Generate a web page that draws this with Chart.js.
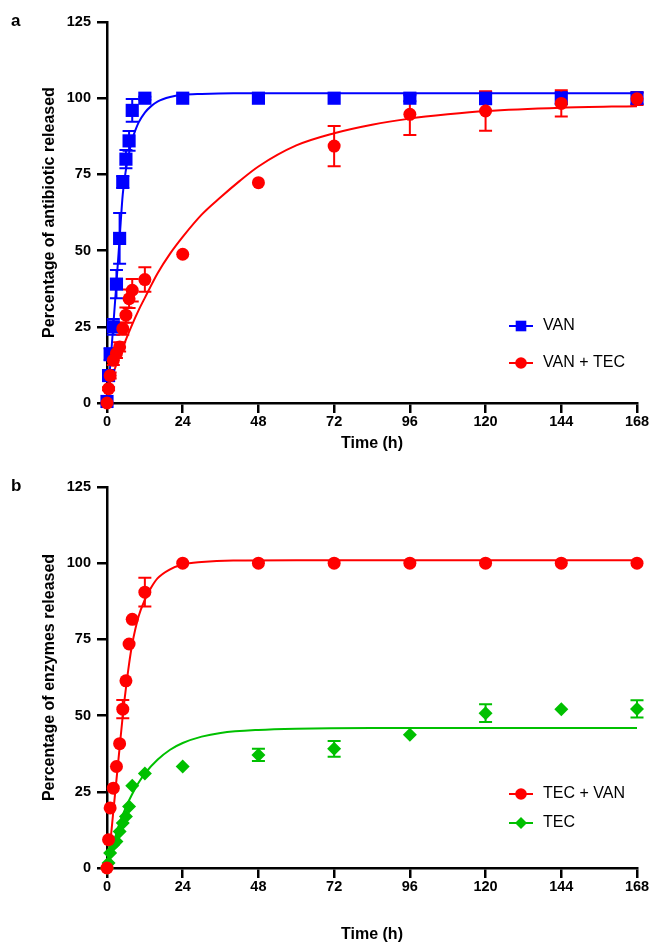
<!DOCTYPE html>
<html><head><meta charset="utf-8">
<script src="https://cdn.jsdelivr.net/npm/chart.js@4"></script>
<style>
html,body{margin:0;padding:0;background:#fff;}
body{width:652px;height:944px;position:relative;overflow:hidden;font-family:"Liberation Sans",Arial,sans-serif;}
.panel{position:absolute;left:0;width:652px;}
.panel canvas{display:block;}
.lab{position:absolute;left:11px;font-weight:bold;font-size:17px;line-height:17px;color:#000;}
</style></head><body>
<div class="panel" style="top:0;height:470px"><canvas id="c1" width="652" height="470"></canvas></div>
<div class="panel" style="top:470px;height:474px"><canvas id="c2" width="652" height="474"></canvas></div>
<div class="lab" style="top:12px">a</div>
<div class="lab" style="top:477px">b</div>
<script>
// ---- tick labels ----
const xTicks = [0, 24, 48, 72, 96, 120, 144, 168];
const yTicks = [0, 25, 50, 75, 100, 125];

// ---- panel a: antibiotic release ----
const timesA = [0, 0.5, 1, 2, 3, 4, 5, 6, 7, 8, 12, 24, 48, 72, 96, 120, 144, 168];
const vanValues = [0.5, 9, 16, 25, 39, 54, 72.5, 80, 86, 96, 100, 100, 100, 100, 100, 100, 100, 100];
const vanErrors = [0, 0, 2, 2.6, 4.6, 8.3, 2, 3, 3.2, 3.7, 0.5, 0, 0, 0, 1, 2, 2, 2];
const vanTecValues = [0, 4.7, 9, 14, 16.3, 18.4, 24.4, 28.8, 34.2, 37, 40.5, 48.8, 72.3, 84.3, 94.7, 95.8, 98.3, 99.8];
const vanTecErrors = [0, 0.5, 1, 1.5, 1.5, 1.5, 2, 2.5, 3, 3.7, 4, 0, 0, 6.6, 6.8, 6.5, 4.3, 2];
const vanFitTimes = [0, 1, 2, 3, 4, 5, 6, 7, 8, 9, 10, 12, 14, 16, 20, 24, 30, 40, 60, 168];
const vanFitValues = [0, 12, 25.5, 39.5, 54, 68.5, 76.5, 82, 86.5, 89.5, 92, 95.3, 97.4, 98.9, 100.4, 101.1, 101.4, 101.6, 101.6, 101.6];
const vanTecFitTimes = [0, 2, 4, 6, 8, 10, 12, 16, 20, 24, 30, 36, 42, 48, 60, 72, 84, 96, 108, 120, 144, 168];
const vanTecFitValues = [4, 9.9, 15.5, 20.8, 25.8, 30.4, 34.5, 42.5, 49, 54.5, 61.8, 67.5, 72.8, 77.6, 84.5, 88.5, 91.3, 93.3, 94.7, 95.8, 96.9, 97.4];
const legendA = ['VAN', 'VAN + TEC'];

// ---- panel b: enzyme release ----
const timesB = [0, 0.5, 1, 2, 3, 4, 5, 6, 7, 8, 12, 24, 48, 72, 96, 120, 144, 168];
const tecVanValues = [0, 9.3, 19.7, 26.2, 33.3, 40.8, 52.1, 61.4, 73.5, 81.6, 90.5, 100, 100, 100, 100, 100, 100, 100];
const tecVanErrors = [0, 0, 0, 0, 0, 0, 3, 0, 0, 0, 4.7, 0, 0, 0, 0, 0, 0, 0];
const tecValues = [0, 1.6, 4.9, 7.6, 8.7, 12, 14.8, 16.9, 20.2, 27, 31, 33.3, 37.1, 39.1, 43.7, 50.8, 52.1, 52.2];
const tecErrors = [0, 0, 0, 0, 0, 0, 0, 0, 0, 0, 0, 0, 2, 2.6, 0, 2.9, 0, 2.8];
const tecVanFitTimes = [0, 1, 2, 3, 4, 5, 6, 7, 8, 10, 12, 14, 16, 20, 24, 30, 40, 60, 168];
const tecVanFitValues = [0, 8, 18.5, 29, 39.5, 50, 59, 67, 73.5, 82.5, 88, 92, 95, 98, 99.6, 100.4, 100.9, 101, 101];
const tecFitTimes = [0, 1, 2, 3, 4, 6, 8, 10, 12, 16, 20, 24, 30, 36, 48, 60, 84, 168];
const tecFitValues = [0, 4.1, 8, 11.5, 14.7, 20, 24.3, 28, 31, 35.5, 38.8, 41, 43.1, 44.3, 45.3, 45.7, 45.9, 45.9];
const legendB = ['TEC + VAN', 'TEC'];

const BLUE = '#0000FF', RED = '#FF0000', GREEN = '#00C000';
const FONT = '"Liberation Sans", Arial, Helvetica, sans-serif';

const pts = (xs, ys) => xs.map((x, i) => ({x: x, y: ys[i]}));

function marker(ctx, style, r, x, y) {
  ctx.beginPath();
  if (style === 'rect') { const s = r * Math.SQRT1_2; ctx.rect(x - s, y - s, 2 * s, 2 * s); }
  else if (style === 'rectRot') { ctx.moveTo(x - r, y); ctx.lineTo(x, y - r); ctx.lineTo(x + r, y); ctx.lineTo(x, y + r); ctx.closePath(); }
  else { ctx.arc(x, y, r, 0, Math.PI * 2); }
  ctx.fill();
}

const errorBars = {
  id: 'errorBars',
  beforeDatasetsDraw(chart) {
    const ctx = chart.ctx, xs = chart.scales.x, ys = chart.scales.y;
    chart.data.datasets.forEach(ds => {
      if (!ds.errors) return;
      ctx.save();
      ctx.strokeStyle = ds.borderColor; ctx.lineWidth = 2;
      ds.data.forEach((p, j) => {
        const e = ds.errors[j];
        if (!e) return;
        const x = xs.getPixelForValue(p.x);
        const yT = ys.getPixelForValue(p.y + e), yB = ys.getPixelForValue(p.y - e);
        ctx.beginPath();
        ctx.moveTo(x, yT); ctx.lineTo(x, yB);
        ctx.moveTo(x - 6.5, yT); ctx.lineTo(x + 6.5, yT);
        ctx.moveTo(x - 6.5, yB); ctx.lineTo(x + 6.5, yB);
        ctx.stroke();
      });
      ctx.restore();
    });
  }
};

const lineLegend = {
  id: 'lineLegend',
  afterDraw(chart, args, opts) {
    const ctx = chart.ctx;
    opts.items.forEach((it, k) => {
      const y = opts.ys[k];
      ctx.save();
      ctx.strokeStyle = it.color; ctx.lineWidth = 2;
      ctx.beginPath(); ctx.moveTo(opts.x1, y); ctx.lineTo(opts.x2, y); ctx.stroke();
      ctx.fillStyle = it.color;
      marker(ctx, it.style, it.radius, (opts.x1 + opts.x2) / 2, y);
      ctx.fillStyle = '#000';
      ctx.font = '16px ' + FONT;
      ctx.textBaseline = 'middle'; ctx.textAlign = 'left';
      ctx.fillText(it.label, opts.textX, y);
      ctx.restore();
    });
  }
};

function axisCommon(ticksArr) {
  return {
    type: 'linear',
    min: ticksArr[0], max: ticksArr[ticksArr.length - 1],
    afterBuildTicks: s => { s.ticks = ticksArr.map(v => ({value: v})); },
    ticks: {color: '#000', font: {family: FONT, size: 14.5, weight: 'bold'}, autoSkip: false, maxRotation: 0},
    grid: {display: true, drawOnChartArea: false, drawTicks: true, tickLength: 10, tickWidth: 2.5, tickColor: '#000', color: '#000', lineWidth: 2.5},
    border: {display: true, color: '#000', width: 2.5}
  };
}

function makeChart(id, cfg) {
  const x = axisCommon(xTicks);
  x.ticks.padding = 0;
  x.title = {display: true, text: 'Time (h)', color: '#000', font: {family: FONT, size: 16, weight: 'bold'}, padding: {top: 0, bottom: cfg.xTitlePad}};
  x.afterFit = s => { s.height = cfg.xHeight; };
  const y = axisCommon(yTicks);
  y.ticks.padding = 6;
  y.title = {display: true, text: cfg.yTitle, color: '#000', font: {family: FONT, size: 16, weight: 'bold'}, padding: {top: 40, bottom: 0}};
  y.afterFit = s => { s.width = 107; };
  return new Chart(document.getElementById(id), {
    type: 'line',
    data: {datasets: cfg.datasets},
    options: {
      responsive: false, animation: false, devicePixelRatio: 1,
      layout: {padding: {top: cfg.top, right: 15, bottom: 0, left: 0}},
      scales: {x: x, y: y},
      plugins: {legend: {display: false}, tooltip: {enabled: false}, lineLegend: cfg.legend},
      elements: {line: {tension: 0}}
    },
    plugins: [errorBars, lineLegend]
  });
}

function fitDs(xs, ys, color, order) {
  return {data: pts(xs, ys), borderColor: color, backgroundColor: color, borderWidth: 2, pointRadius: 0,
          cubicInterpolationMode: 'monotone', fill: false, order: order};
}
function dataDs(xs, ys, errs, color, style, r, order) {
  return {data: pts(xs, ys), errors: errs, borderColor: color, backgroundColor: color, showLine: false,
          pointStyle: style, pointRadius: r, pointBorderWidth: 0, pointBackgroundColor: color, pointBorderColor: color,
          clip: false, order: order};
}

makeChart('c1', {
  yTitle: 'Percentage of antibiotic released', top: 22, xHeight: 67, xTitlePad: 17,
  datasets: [
    fitDs(vanFitTimes, vanFitValues, BLUE, 4),
    fitDs(vanTecFitTimes, vanTecFitValues, RED, 3),
    dataDs(timesA, vanValues, vanErrors, BLUE, 'rect', 9.3, 2),
    dataDs(timesA, vanTecValues, vanTecErrors, RED, 'circle', 6.5, 1)
  ],
  legend: {x1: 509, x2: 533, textX: 543, ys: [326, 363],
    items: [{label: legendA[0], color: BLUE, style: 'rect', radius: 7.5},
            {label: legendA[1], color: RED, style: 'circle', radius: 5.8}]}
});

makeChart('c2', {
  yTitle: 'Percentage of enzymes released', top: 17, xHeight: 76, xTitlePad: 0,
  datasets: [
    fitDs(tecFitTimes, tecFitValues, GREEN, 4),
    fitDs(tecVanFitTimes, tecVanFitValues, RED, 3),
    dataDs(timesB, tecValues, tecErrors, GREEN, 'rectRot', 7, 2),
    dataDs(timesB, tecVanValues, tecVanErrors, RED, 'circle', 6.5, 1)
  ],
  legend: {x1: 509, x2: 533, textX: 543, ys: [324, 353],
    items: [{label: legendB[0], color: RED, style: 'circle', radius: 5.8},
            {label: legendB[1], color: GREEN, style: 'rectRot', radius: 6}]}
});
</script>
</body></html>
